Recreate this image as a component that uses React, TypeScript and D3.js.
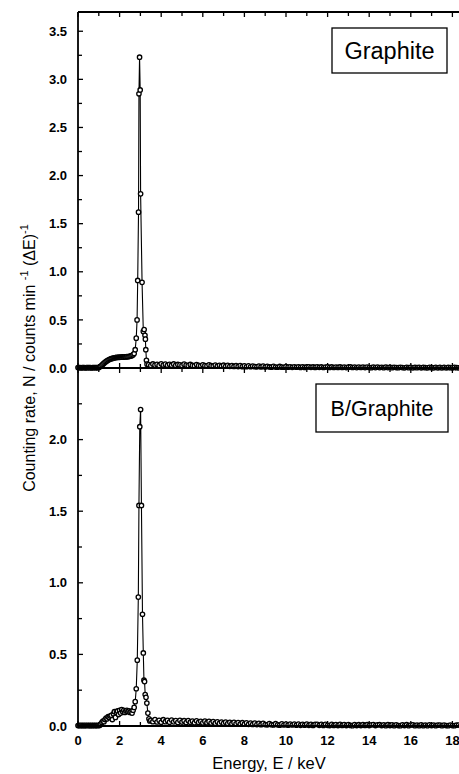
import React from "react";
import * as d3 from "d3";

// ---------- DATA ----------
const lowStart = 0;
const lowStep = 0.05;
const graphiteLow = [
  0.004, 0.003, 0.005, 0.002, 0.004, 0.003, 0.005, 0.002, 0.004, 0.003,
  0.005, 0.003, 0.004, 0.002, 0.004, 0.003, 0.005, 0.003, 0.004, 0.003,
  0.005, 0.012, 0.02, 0.03, 0.04, 0.05, 0.06, 0.068, 0.075, 0.082,
  0.088, 0.093, 0.097, 0.1, 0.104, 0.106, 0.108, 0.11, 0.109, 0.112,
  0.111, 0.113, 0.112, 0.115, 0.114, 0.116, 0.115, 0.118, 0.117, 0.12,
  0.122, 0.125, 0.13, 0.138, 0.15, 0.19,
];
const graphitePeakE = [2.8, 2.84, 2.87, 2.91, 2.93, 2.96, 2.99, 3.01, 3.08, 3.14, 3.18, 3.22, 3.24, 3.26, 3.29, 3.32];
const graphitePeakN = [0.31, 0.5, 0.91, 1.62, 2.85, 3.23, 2.89, 1.81, 0.89, 0.38, 0.4, 0.34, 0.3, 0.19, 0.08, 0.04];
const graphiteTailStart = 3.4;
const tailStep = 0.1;
const graphiteTail = [
  0.035, 0.026, 0.042, 0.03, 0.038, 0.027, 0.043, 0.031, 0.04, 0.028,
  0.039, 0.029, 0.042, 0.027, 0.037, 0.032, 0.026, 0.04, 0.03, 0.025,
  0.037, 0.027, 0.024, 0.036, 0.027, 0.023, 0.034, 0.026, 0.022, 0.033,
  0.024, 0.021, 0.031, 0.02, 0.028, 0.019, 0.029, 0.018, 0.027, 0.017,
  0.026, 0.016, 0.024, 0.015, 0.025, 0.014, 0.023, 0.013, 0.022, 0.013,
  0.021, 0.014, 0.012, 0.02, 0.011, 0.019, 0.01, 0.018, 0.011, 0.009,
  0.017, 0.01, 0.008, 0.016, 0.009, 0.008, 0.015, 0.009, 0.013, 0.007,
  0.013, 0.008, 0.012, 0.006, 0.013, 0.006, 0.011, 0.012, 0.007, 0.011,
  0.006, 0.012, 0.007, 0.011, 0.005, 0.01, 0.012, 0.006, 0.011, 0.005,
  0.01, 0.006, 0.011, 0.005, 0.01, 0.004, 0.009, 0.011, 0.005, 0.009,
  0.004, 0.01, 0.005, 0.009, 0.004, 0.01, 0.005, 0.003, 0.009, 0.004,
  0.009, 0.004, 0.008, 0.003, 0.009, 0.004, 0.008, 0.003, 0.008, 0.004,
  0.003, 0.008, 0.004, 0.002, 0.008, 0.003, 0.007, 0.002, 0.007, 0.003,
  0.008, 0.002, 0.007, 0.003, 0.002, 0.007, 0.003, 0.002, 0.007, 0.002,
  0.006, 0.002, 0.007, 0.002, 0.006, 0.003, 0.002, 0.006, 0.003, 0.002,
  0.004,
];

const boronLow = [
  0.003, 0.004, 0.002, 0.005, 0.003, 0.004, 0.002, 0.004, 0.003, 0.005,
  0.003, 0.004, 0.002, 0.004, 0.003, 0.005, 0.002, 0.004, 0.003, 0.004,
  0.003, 0.005, 0.015, 0.025, 0.035, 0.03, 0.045, 0.055, 0.05, 0.065,
  0.06, 0.07, 0.075, 0.045, 0.085, 0.1, 0.06, 0.095, 0.105, 0.08,
  0.11, 0.09, 0.115, 0.1, 0.11, 0.095, 0.105, 0.11, 0.1, 0.105,
  0.095, 0.1, 0.09, 0.11, 0.13, 0.17,
];
const boronPeakE = [2.8, 2.85, 2.9, 2.93, 2.97, 3.01, 3.05, 3.1, 3.14, 3.17, 3.2, 3.23, 3.27, 3.31, 3.36, 3.41, 3.45];
const boronPeakN = [0.26, 0.46, 0.9, 1.54, 2.09, 2.21, 1.54, 0.78, 0.51, 0.32, 0.31, 0.22, 0.2, 0.16, 0.09, 0.05, 0.035];
const boronTailStart = 3.5;
const boronTail = [
  0.04, 0.03, 0.045, 0.028, 0.04, 0.026, 0.044, 0.03, 0.039, 0.027,
  0.042, 0.029, 0.038, 0.025, 0.04, 0.028, 0.037, 0.024, 0.038, 0.027,
  0.035, 0.023, 0.036, 0.025, 0.033, 0.022, 0.034, 0.023, 0.032, 0.021,
  0.031, 0.02, 0.029, 0.018, 0.028, 0.019, 0.027, 0.017, 0.026, 0.016,
  0.025, 0.015, 0.024, 0.014, 0.023, 0.013, 0.022, 0.012, 0.021, 0.011,
  0.02, 0.01, 0.019, 0.009, 0.018, 0.01, 0.008, 0.017, 0.009, 0.007,
  0.016, 0.008, 0.006, 0.015, 0.007, 0.014, 0.006, 0.013, 0.007, 0.014,
  0.006, 0.013, 0.005, 0.012, 0.006, 0.013, 0.005, 0.012, 0.004, 0.011,
  0.012, 0.005, 0.011, 0.004, 0.012, 0.005, 0.003, 0.011, 0.004, 0.01,
  0.003, 0.011, 0.004, 0.01, 0.003, 0.01, 0.004, 0.002, 0.01, 0.003,
  0.009, 0.003, 0.01, 0.004, 0.009, 0.003, 0.008, 0.01, 0.003, 0.008,
  0.009, 0.003, 0.008, 0.002, 0.009, 0.003, 0.008, 0.002, 0.008, 0.003,
  0.002, 0.008, 0.003, 0.009, 0.002, 0.007, 0.008, 0.002, 0.007, 0.002,
  0.008, 0.002, 0.007, 0.002, 0.008, 0.003, 0.007, 0.002, 0.006, 0.007,
  0.002, 0.007, 0.003, 0.002, 0.007, 0.003, 0.002, 0.006, 0.007, 0.002,
];

const xTickLabels = ["0", "2", "4", "6", "8", "10", "12", "14", "16", "18"];
const yTopLabels = ["0.0", "0.5", "1.0", "1.5", "2.0", "2.5", "3.0", "3.5"];
const yBotLabels = ["0.0", "0.5", "1.0", "1.5", "2.0"];
const panelNames = ["Graphite", "B/Graphite"];

type Pt = [number, number];
function build(low: number[], pe: number[], pn: number[], tailStart: number, tail: number[]): Pt[] {
  const pts: Pt[] = [];
  low.forEach((v, i) => pts.push([+(lowStart + i * lowStep).toFixed(3), v]));
  pe.forEach((e, i) => pts.push([e, pn[i]]));
  tail.forEach((v, i) => pts.push([+(tailStart + i * tailStep).toFixed(3), v]));
  return pts;
}

const FONT = "'Liberation Sans', Arial, Helvetica, sans-serif";

export default function App() {
  const W = 459, H = 774;
  const left = 78;
  const pxPerKeV = 20.8;
  const xMax = 18.4;
  const x = d3.scaleLinear().domain([0, xMax]).range([left, left + xMax * pxPerKeV]);
  const right = x(xMax) + 1;
  const topY0 = 12, midY = 368, botY = 726;
  const yTop = d3.scaleLinear().domain([0, 3.7]).range([midY, topY0]);
  const yBot = d3.scaleLinear().domain([0, 2.5]).range([botY, midY]);

  const dataTop = build(graphiteLow, graphitePeakE, graphitePeakN, graphiteTailStart, graphiteTail);
  const dataBot = build(boronLow, boronPeakE, boronPeakN, boronTailStart, boronTail);

  const panels = [
    { y: yTop, data: dataTop, labels: yTopLabels, max: 3.7, box: { x: 332, y: 28, w: 115, h: 45 }, fs: 23.5 },
    { y: yBot, data: dataBot, labels: yBotLabels, max: 2.5, box: { x: 316, y: 384, w: 132, h: 48 }, fs: 21.5 },
  ];

  const xMinor = d3.range(0, 19, 1);

  return (
    <svg width={W} height={H} style={{ position: "absolute", left: 0, top: 0, background: "#fff" }}>
      <rect x={0} y={0} width={W} height={H} fill="#fff" />
      {panels.map((p, pi) => {
        const line = d3.line<Pt>().x((d) => x(d[0])).y((d) => p.y(d[1]));
        const yTicks = d3.range(0, p.max + 0.001, 0.25);
        const y0 = p.y(0);
        const yT = p.y(p.max);
        return (
          <g key={pi}>
            {yTicks.map((t, i) => (
              <line key={i} x1={left} x2={left + (i % 2 === 0 ? 5 : 4)} y1={p.y(t)} y2={p.y(t)} stroke="#000" strokeWidth={1.3} />
            ))}
            {p.labels.map((lab, i) => (
              <text key={lab} x={67} y={p.y(i * 0.5)} dy="0.36em" textAnchor="end" fontFamily={FONT} fontWeight="bold" fontSize={13}>
                {lab}
              </text>
            ))}
            {xMinor.map((t) => (
              <line key={"b" + t} x1={x(t)} x2={x(t)} y1={y0} y2={y0 - (t % 2 === 0 ? 5 : 4)} stroke="#000" strokeWidth={1.3} />
            ))}
            {xMinor.map((t) => (
              <line key={"t" + t} x1={x(t)} x2={x(t)} y1={yT} y2={yT + (t % 2 === 0 ? 5 : 4)} stroke="#000" strokeWidth={1.3} />
            ))}
            <path d={line(p.data) || ""} fill="none" stroke="#000" strokeWidth={1.1} />
            {p.data.map((d, i) => (
              <circle key={i} cx={x(d[0])} cy={p.y(d[1])} r={2.2} fill="#fff" stroke="#000" strokeWidth={1.3} />
            ))}
            <rect x={p.box.x} y={p.box.y} width={p.box.w} height={p.box.h} fill="#fff" stroke="#000" strokeWidth={1.3} />
            <text x={p.box.x + p.box.w / 2} y={p.box.y + p.box.h / 2} dy="0.36em" textAnchor="middle" fontFamily={FONT} fontSize={p.fs}>
              {panelNames[pi]}
            </text>
          </g>
        );
      })}
      <line x1={left} x2={left} y1={topY0} y2={botY} stroke="#000" strokeWidth={1.8} />
      <line x1={left} x2={right} y1={topY0} y2={topY0} stroke="#000" strokeWidth={1.8} />
      <line x1={left} x2={right} y1={midY} y2={midY} stroke="#000" strokeWidth={1.8} />
      <line x1={left} x2={right} y1={botY} y2={botY} stroke="#000" strokeWidth={1.8} />
      <line x1={right} x2={right} y1={topY0} y2={botY} stroke="#000" strokeWidth={1.8} />
      {xTickLabels.map((lab, i) => (
        <text key={lab} x={x(i * 2)} y={745} textAnchor="middle" fontFamily={FONT} fontWeight="bold" fontSize={13}>
          {lab}
        </text>
      ))}
      <text x={269} y={769} textAnchor="middle" fontFamily={FONT} fontSize={16.5}>
        Energy, E / keV
      </text>
      <text transform={`translate(35,${358}) rotate(-90)`} textAnchor="middle" fontFamily={FONT} fontSize={16}>
        Counting rate, N / counts min{" "}
        <tspan dy={-7} fontSize={11}>-1</tspan>
        <tspan dy={7}>{"  "}(ΔE)</tspan>
        <tspan dy={-7} fontSize={11}>-1</tspan>
      </text>
    </svg>
  );
}
